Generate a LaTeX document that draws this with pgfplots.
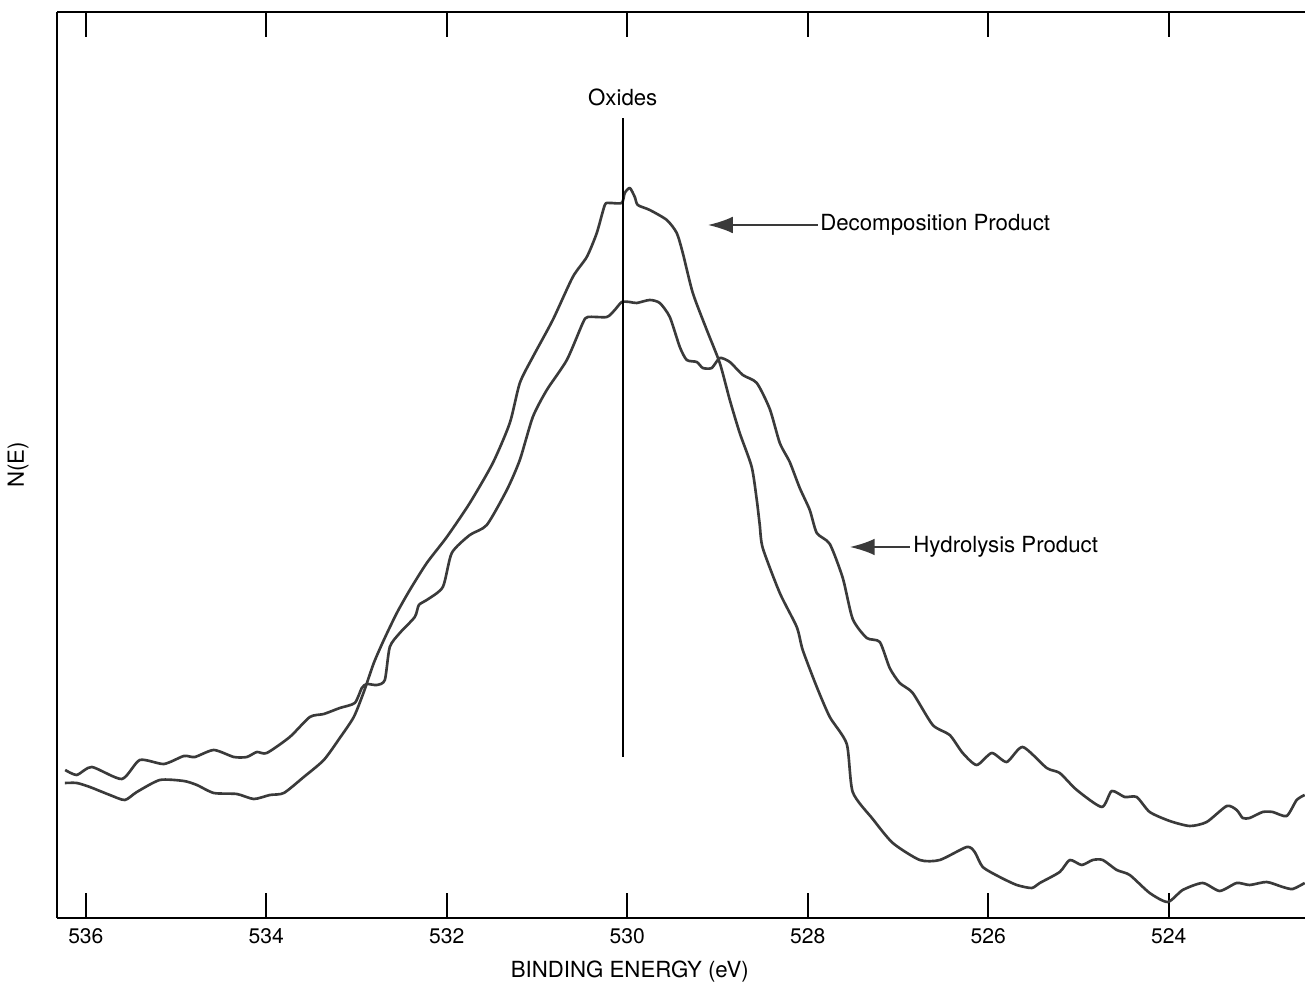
\documentclass[border=0pt]{standalone}
\usepackage{fontspec}
\setmainfont{TeX Gyre Heros}
\usepackage{pgfplots}
\pgfplotsset{compat=1.18}
\usetikzlibrary{arrows.meta}
\definecolor{curve}{HTML}{3A3A3A}
\begin{document}
\fontsize{8pt}{9.6pt}\selectfont
\begin{tikzpicture}
\begin{axis}[
  scale only axis,
  width=449.28pt, height=326.16pt,
  x dir=reverse,
  xmin=522.49, xmax=536.32,
  ymin=0, ymax=906,
  axis x line*=box,
  axis y line*=left,
  axis line style={-, line width=0.8pt, black},
  xtick={524,526,528,530,532,534,536},
  ytick=\empty,
  tick align=inside,
  major tick length=9pt,
  every tick/.style={black, line width=0.8pt},
  xticklabel pos=lower,
  /pgf/number format/assume math mode=true,
  /pgf/number format/1000 sep={},
  xticklabel style={font=\fontsize{7.6pt}{9pt}\selectfont, yshift=-1pt},
  xlabel={BINDING ENERGY (eV)},
  xlabel style={at={(axis description cs:0.459,0)}, anchor=center, yshift=-19.4pt, font=\fontsize{8pt}{9.6pt}\selectfont},
  ylabel={N(E)},
  ylabel style={at={(axis description cs:-0.0312,0.5)}, anchor=center, font=\fontsize{8pt}{9.6pt}\selectfont},
  clip=true,
]
\coordinate (ll) at (rel axis cs:0,0);
\coordinate (ur) at (rel axis cs:1,1);
% Hydrolysis Product
\addplot[curve, line width=0.95pt, smooth, tension=0.4, line join=round] coordinates {
(536.229,148) (536.100,143) (535.934,151) (535.601,139) (535.402,158) (535.136,154)
(534.914,162) (534.792,161) (534.582,168) (534.360,161) (534.216,161) (534.105,166)
(533.995,165) (533.740,181) (533.518,201) (533.363,204) (533.186,210) (533.020,215)
(532.942,230) (532.887,234) (532.776,233) (532.687,238) (532.632,271) (532.521,285)
(532.355,301) (532.310,313) (532.222,318) (532.044,331) (531.945,365) (531.745,383)
(531.557,393) (531.335,428) (531.191,458) (531.047,501) (530.892,528) (530.670,558)
(530.493,595) (530.438,601) (530.227,601) (530.139,608) (530.061,616) (529.972,616)
(529.895,615) (529.751,618) (529.640,615) (529.529,601) (529.418,571) (529.341,558)
(529.230,556) (529.163,550) (529.064,550) (528.975,560) (528.864,556) (528.720,543)
(528.565,535) (528.421,509) (528.310,475) (528.200,456) (528.089,430) (527.978,408)
(527.900,385) (527.756,374) (527.612,340) (527.502,299) (527.346,280) (527.202,276)
(527.092,250) (526.981,235) (526.837,225) (526.615,193) (526.427,183) (526.283,165)
(526.128,153) (525.961,165) (525.795,156) (525.618,171) (525.352,150) (525.208,145)
(525.019,128) (524.742,111) (524.632,127) (524.488,121) (524.355,121) (524.211,106)
(523.989,97) (523.767,92) (523.579,96) (523.357,112) (523.247,108) (523.180,100)
(523.103,100) (522.959,106) (522.848,106) (522.693,102) (522.582,118) (522.493,123)
};
% Decomposition Product
\addplot[curve, line width=0.95pt, smooth, tension=0.4, line join=round] coordinates {
(536.233,135) (536.100,135) (535.956,131) (535.734,123) (535.568,118) (535.435,126)
(535.180,138) (534.914,137) (534.770,133) (534.582,125) (534.327,124) (534.139,119)
(533.961,123) (533.806,125) (533.585,141) (533.363,158) (533.186,180) (533.031,201)
(532.920,226) (532.809,255) (532.698,278) (532.554,305) (532.410,328) (532.222,355)
(532.000,381) (531.745,415) (531.490,455) (531.302,495) (531.191,535) (531.047,561)
(530.826,598) (530.604,641) (530.449,661) (530.338,685) (530.249,713) (530.194,715)
(530.061,715) (530.028,725) (529.972,730) (529.917,721) (529.884,713) (529.751,708)
(529.562,698) (529.452,685) (529.385,665) (529.274,625) (529.119,588) (528.975,555)
(528.864,518) (528.754,485) (528.621,451) (528.565,418) (528.532,393) (528.499,370)
(528.310,325) (528.122,291) (528.056,268) (527.900,231) (527.756,201) (527.568,174)
(527.502,126) (527.280,99) (527.058,75) (526.759,58) (526.537,58) (526.238,71)
(526.150,66) (526.061,51) (525.873,41) (525.684,33) (525.518,30) (525.429,35)
(525.208,46) (525.097,58) (524.964,53) (524.842,58) (524.731,58) (524.576,48)
(524.432,43) (524.211,25) (524.011,16) (523.845,28) (523.623,35) (523.435,27)
(523.247,35) (523.103,33) (522.914,36) (522.737,31) (522.626,29) (522.493,35)
};
% Oxides reference line
\addplot[black, line width=0.8pt] coordinates {(530.05,161) (530.05,800)};
\node[anchor=south, inner sep=0pt] at (axis cs:530.05,812) {Oxides};
% Arrows and labels
\draw[curve, line width=0.8pt, -{Latex[length=9pt, width=6pt]}] (axis cs:527.89,693) -- (axis cs:529.108,693);
\node[anchor=west, inner sep=0pt] at (axis cs:527.867,693) {Decomposition Product};
\draw[curve, line width=0.8pt, -{Latex[length=9pt, width=6pt]}] (axis cs:526.870,371) -- (axis cs:527.535,371);
\node[anchor=west, inner sep=0pt] at (axis cs:526.837,371) {Hydrolysis Product};
\end{axis}
\pgfresetboundingbox
\path[use as bounding box] ([xshift=-20.52pt,yshift=-23.04pt]ll) rectangle ([yshift=4.32pt]ur);
\end{tikzpicture}
\end{document}
